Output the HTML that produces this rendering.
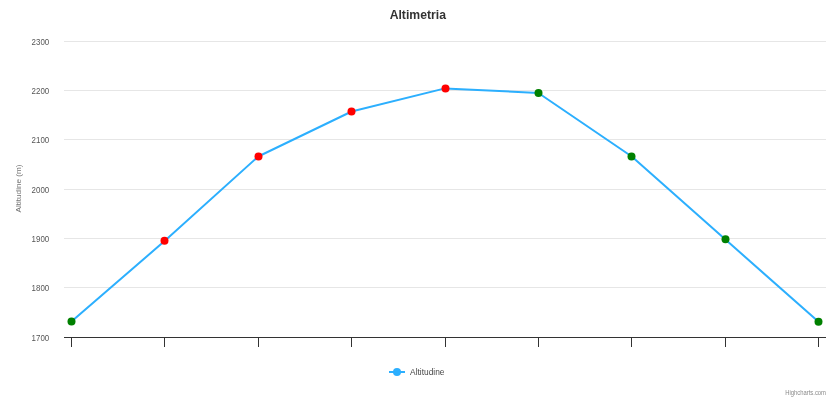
<!DOCTYPE html>
<html lang="it"><head><meta charset="utf-8"><title>Altimetria</title>
<style>html,body{margin:0;padding:0;background:#fff;}body{width:836px;height:400px;overflow:hidden;font-family:"Liberation Sans", sans-serif;}svg{display:block;will-change:transform;}text{font-family:"Liberation Sans", sans-serif;}</style></head><body>
<svg width="836" height="400" viewBox="0 0 836 400">
<rect x="0" y="0" width="836" height="400" fill="#ffffff"/>
<g stroke="#e6e6e6" stroke-width="1" fill="none">
<path d="M 64 41.5 L 826 41.5"/>
<path d="M 64 90.5 L 826 90.5"/>
<path d="M 64 139.5 L 826 139.5"/>
<path d="M 64 189.5 L 826 189.5"/>
<path d="M 64 238.5 L 826 238.5"/>
<path d="M 64 287.5 L 826 287.5"/>
</g>
<g stroke="#333333" stroke-width="1" fill="none">
<path d="M 64 337.5 L 826 337.5"/>
<path d="M 71.5 337.5 L 71.5 347"/>
<path d="M 164.5 337.5 L 164.5 347"/>
<path d="M 258.5 337.5 L 258.5 347"/>
<path d="M 351.5 337.5 L 351.5 347"/>
<path d="M 445.5 337.5 L 445.5 347"/>
<path d="M 538.5 337.5 L 538.5 347"/>
<path d="M 631.5 337.5 L 631.5 347"/>
<path d="M 725.5 337.5 L 725.5 347"/>
<path d="M 818.5 337.5 L 818.5 347"/>
</g>
<path d="M 71.47 321.60 L 164.85 240.80 L 258.24 156.50 L 351.62 111.50 L 445.00 88.40 L 538.38 93.00 L 631.76 156.50 L 725.15 239.30 L 818.53 321.70" fill="none" stroke="#2caffe" stroke-width="2" stroke-linejoin="round" stroke-linecap="round"/>
<circle cx="71.50" cy="321.60" r="4" fill="#008000"/>
<circle cx="164.50" cy="240.80" r="4" fill="#ff0000"/>
<circle cx="258.50" cy="156.50" r="4" fill="#ff0000"/>
<circle cx="351.50" cy="111.50" r="4" fill="#ff0000"/>
<circle cx="445.50" cy="88.40" r="4" fill="#ff0000"/>
<circle cx="538.50" cy="93.00" r="4" fill="#008000"/>
<circle cx="631.50" cy="156.50" r="4" fill="#008000"/>
<circle cx="725.50" cy="239.30" r="4" fill="#008000"/>
<circle cx="818.50" cy="321.70" r="4" fill="#008000"/>
<text x="417.8" y="19" text-anchor="middle" font-size="12" font-weight="bold" textLength="56.3" lengthAdjust="spacingAndGlyphs" fill="#333333">Altimetria</text>
<g font-size="8.7" fill="#555555" text-anchor="end">
<text x="49.2" y="45.0" textLength="17.6" lengthAdjust="spacingAndGlyphs">2300</text>
<text x="49.2" y="94.0" textLength="17.6" lengthAdjust="spacingAndGlyphs">2200</text>
<text x="49.2" y="143.0" textLength="17.6" lengthAdjust="spacingAndGlyphs">2100</text>
<text x="49.2" y="193.0" textLength="17.6" lengthAdjust="spacingAndGlyphs">2000</text>
<text x="49.2" y="242.0" textLength="17.6" lengthAdjust="spacingAndGlyphs">1900</text>
<text x="49.2" y="291.0" textLength="17.6" lengthAdjust="spacingAndGlyphs">1800</text>
<text x="49.2" y="341.0" textLength="17.6" lengthAdjust="spacingAndGlyphs">1700</text>
</g>
<text x="21" y="188.5" transform="rotate(270 21 188.5)" text-anchor="middle" font-size="8" textLength="48" lengthAdjust="spacingAndGlyphs" fill="#757575">Altitudine (m)</text>
<path d="M 389 372 L 405 372" stroke="#2caffe" stroke-width="2" fill="none"/>
<circle cx="397" cy="372" r="4" fill="#2caffe"/>
<text x="410.1" y="375" font-size="8.6" textLength="34.4" lengthAdjust="spacingAndGlyphs" fill="#484848">Altitudine</text>
<text x="826" y="395" text-anchor="end" font-size="6.5" textLength="40.8" lengthAdjust="spacingAndGlyphs" fill="#8a8a8a">Highcharts.com</text>
</svg></body></html>
